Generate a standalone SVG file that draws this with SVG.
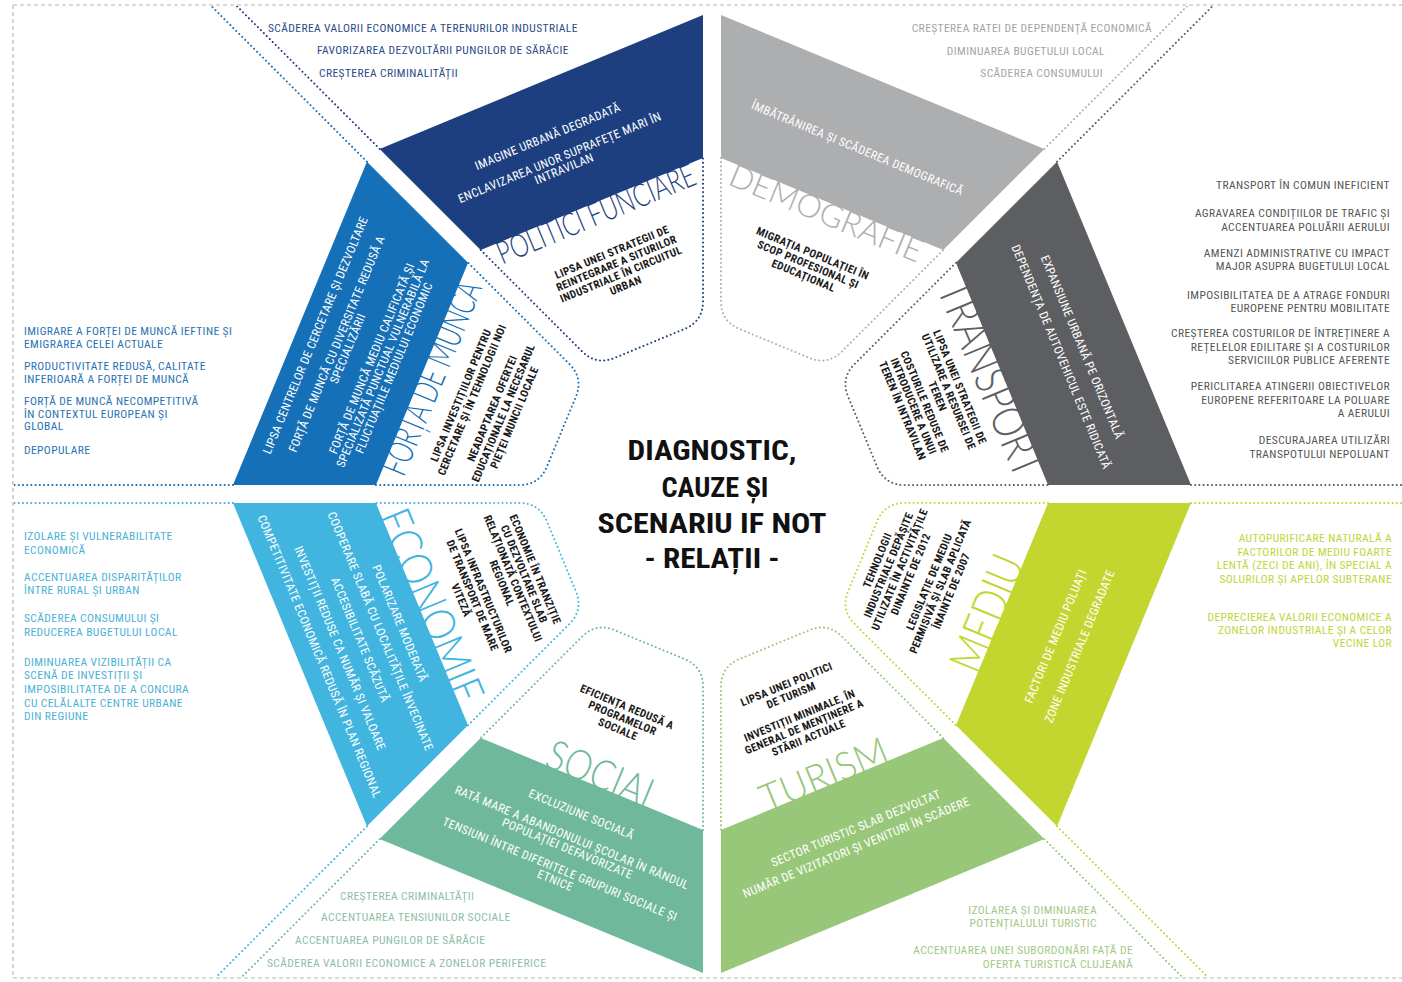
<svg xmlns="http://www.w3.org/2000/svg" width="1402" height="982" viewBox="0 0 1402 982">
<style>
text{font-family:"Liberation Sans Narrow","Roboto Condensed","DejaVu Sans Condensed","Liberation Sans",sans-serif;font-size:11.5px;letter-spacing:0.4px}
.dot{fill:none;stroke-width:2;stroke-linecap:round;stroke-dasharray:0 4.2}
.e{text-anchor:end}
.s{font-size:11px;letter-spacing:0.5px}
.b{fill:#fff;text-anchor:middle;font-size:12px;letter-spacing:0.35px}
.i{font-weight:bold;fill:#1a1a1a;text-anchor:middle;font-size:11px;letter-spacing:0.3px}
.t{font-family:Lato,"Open Sans",Roboto,sans-serif;font-weight:300;text-anchor:middle;letter-spacing:0}
.c{font-size:28px;font-weight:bold;fill:#111;text-anchor:middle;letter-spacing:0}
.frame{fill:none;stroke:#b8b8b8;stroke-width:1.2;stroke-dasharray:4 3}
</style>
<defs>
<polygon id="band" points="-175,-446 175,-446 120.3,-313.9 -120.3,-313.9"/>
<path id="inner" d="M-120.3,-313.9 L-65.5,-181.5 Q-57.8,-163 -37.8,-163 L37.8,-163 Q57.8,-163 65.5,-181.5 L120.3,-313.9"/>
<path id="lineL" d="M-175,-446 L-443,-1093"/>
<path id="lineR" d="M175,-446 L443,-1093"/>
<clipPath id="frameClip" clipPathUnits="userSpaceOnUse"><rect x="14" y="6" width="1388" height="971"/></clipPath>
</defs>
<rect width="1402" height="982" fill="#fff"/>
<path class="frame" d="M13,5 H1402 M13,5 V978 M13,978 H1402"/>

<g id="connectors" clip-path="url(#frameClip)">
<use href="#lineL" class="dot" stroke="#1e3f7f" transform="translate(712,494) rotate(-22.5)"/>
<use href="#lineR" class="dot" stroke="#adaeb0" transform="translate(712,494) rotate(22.5)"/>
<use href="#lineL" class="dot" stroke="#5d5e61" transform="translate(712,494) rotate(67.5)"/>
<use href="#lineR" class="dot" stroke="#5d5e61" transform="translate(712,494) rotate(67.5)"/>
<use href="#lineL" class="dot" stroke="#c3d630" transform="translate(712,494) rotate(112.5)"/>
<use href="#lineR" class="dot" stroke="#c3d630" transform="translate(712,494) rotate(112.5)"/>
<use href="#lineL" class="dot" stroke="#98c77a" transform="translate(712,494) rotate(157.5)"/>
<use href="#lineR" class="dot" stroke="#6fb89b" transform="translate(712,494) rotate(202.5)"/>
<use href="#lineL" class="dot" stroke="#41b5e0" transform="translate(712,494) rotate(247.5)"/>
<use href="#lineR" class="dot" stroke="#41b5e0" transform="translate(712,494) rotate(247.5)"/>
<use href="#lineL" class="dot" stroke="#1570b7" transform="translate(712,494) rotate(-67.5)"/>
<use href="#lineR" class="dot" stroke="#1570b7" transform="translate(712,494) rotate(-67.5)"/>
</g>

<g id="sector-politici-funciare">
<g transform="translate(712,494) rotate(-22.5)">
<use href="#band" fill="#1e3f7f"/>
<use href="#inner" class="dot" stroke="#1e3f7f"/>
<text class="b" x="-15" y="-389">IMAGINE URBANĂ DEGRADATĂ</text>
<text class="b" x="-12" y="-365">ENCLAVIZAREA UNOR SUPRAFEȚE MARI ÎN</text>
<text class="b" x="-12" y="-353">INTRAVILAN</text>
<text class="t" x="0" y="-292" style="font-size:32px" fill="#1e3f7f" textLength="212" lengthAdjust="spacingAndGlyphs">POLITICI FUNCIARE</text>
<text class="i" x="0" y="-258">LIPSA UNEI STRATEGII DE</text>
<text class="i" x="0" y="-246">REINTEGRARE A SITURILOR</text>
<text class="i" x="0" y="-234">INDUSTRIALE ÎN CIRCUITUL</text>
<text class="i" x="0" y="-222">URBAN</text>
</g>
<g fill="#2b4a87">
<text x="268" y="32">SCĂDEREA VALORII ECONOMICE A TERENURILOR INDUSTRIALE</text>
<text x="317" y="54">FAVORIZAREA DEZVOLTĂRII PUNGILOR DE SĂRĂCIE</text>
<text x="319" y="77">CREȘTEREA CRIMINALITĂȚII</text>
</g>
</g>

<g id="sector-demografie">
<g transform="translate(712,494) rotate(22.5)">
<use href="#band" fill="#adaeb0"/>
<use href="#inner" class="dot" stroke="#adaeb0"/>
<text class="b" x="2" y="-371">ÎMBĂTRÂNIREA ȘI SCĂDEREA DEMOGRAFICĂ</text>
<text class="t" x="-2" y="-292" style="font-size:32px" fill="#adaeb0" textLength="206" lengthAdjust="spacingAndGlyphs">DEMOGRAFIE</text>
<text class="i" x="1" y="-257">MIGRAȚIA POPULAȚIEI ÎN</text>
<text class="i" x="1" y="-245">SCOP PROFESIONAL ȘI</text>
<text class="i" x="1" y="-233">EDUCAȚIONAL</text>
</g>
<g fill="#a4a4a4" class="e">
<text x="1152" y="32">CREȘTEREA RATEI DE DEPENDENȚĂ ECONOMICĂ</text>
<text x="1105" y="55">DIMINUAREA BUGETULUI LOCAL</text>
<text x="1103" y="77">SCĂDEREA CONSUMULUI</text>
</g>
</g>

<g id="sector-transport">
<g transform="translate(712,494) rotate(67.5)">
<use href="#band" fill="#5d5e61"/>
<use href="#inner" class="dot" stroke="#5d5e61"/>
<text class="b" x="6" y="-394">EXPANSIUNE URBANĂ PE ORIZONTALĂ</text>
<text class="b" x="7" y="-371">DEPENDENȚA DE AUTOVEHICUL ESTE RIDICATĂ</text>
<text class="t" x="0" y="-286" style="font-size:45px" fill="#5d5e61" textLength="208" lengthAdjust="spacingAndGlyphs">TRANSPORT</text>
<text class="i" x="-4" y="-266">LIPSA UNEI STRATEGII DE</text>
<text class="i" x="-4" y="-254">UTILIZARE A RESURSEI DE</text>
<text class="i" x="-4" y="-242">TEREN</text>
<text class="i" x="-4" y="-228">COSTURILE REDUSE DE</text>
<text class="i" x="-4" y="-216">INTRODUCERE A UNUI</text>
<text class="i" x="-4" y="-204">TEREN ÎN INTRAVILAN</text>
</g>
<g fill="#555" class="e">
<text x="1390" y="189">TRANSPORT ÎN COMUN INEFICIENT</text>
<text x="1390" y="217">AGRAVAREA CONDIȚIILOR DE TRAFIC ȘI</text>
<text x="1390" y="231">ACCENTUAREA POLUĂRII AERULUI</text>
<text x="1390" y="257">AMENZI ADMINISTRATIVE CU IMPACT</text>
<text x="1390" y="270">MAJOR ASUPRA BUGETULUI LOCAL</text>
<text x="1390" y="299">IMPOSIBILITATEA DE A ATRAGE FONDURI</text>
<text x="1390" y="312">EUROPENE PENTRU MOBILITATE</text>
<text x="1390" y="337">CREȘTEREA COSTURILOR DE ÎNTREȚINERE A</text>
<text x="1390" y="351">REȚELELOR EDILITARE ȘI A COSTURILOR</text>
<text x="1390" y="364">SERVICIILOR PUBLICE AFERENTE</text>
<text x="1390" y="390">PERICLITAREA ATINGERII OBIECTIVELOR</text>
<text x="1390" y="404">EUROPENE REFERITOARE LA POLUARE</text>
<text x="1390" y="417">A AERULUI</text>
<text x="1390" y="444">DESCURAJAREA UTILIZĂRI</text>
<text x="1390" y="458">TRANSPOTULUI NEPOLUANT</text>
</g>
</g>

<g id="sector-mediu">
<g transform="translate(712,494) rotate(-67.5)">
<g transform="rotate(180)">
<use href="#band" fill="#c3d630"/>
<use href="#inner" class="dot" stroke="#c3d630"/>
</g>
<text class="b" x="0" y="376">FACTORI DE MEDIU POLUAȚI</text>
<text class="b" x="0" y="402">ZONE INDUSTRIALE DEGRADATE</text>
<text class="t" x="-5" y="316" style="font-size:47px" fill="#c3d630" textLength="122" lengthAdjust="spacingAndGlyphs">MEDIU</text>
<text class="i" x="2" y="182">TEHNOLOGII</text>
<text class="i" x="2" y="194">INDUSTRIALE DEPĂȘITE</text>
<text class="i" x="2" y="206">UTILIZATE ÎN ACTIVITĂȚILE</text>
<text class="i" x="2" y="218">DINAINTE DE 2012</text>
<text class="i" x="2" y="238">LEGISLAȚIE DE MEDIU</text>
<text class="i" x="2" y="250">PERMISIVĂ ȘI SLAB APLICATĂ</text>
<text class="i" x="2" y="262">ÎNAINTE DE 2007</text>
</g>
<g fill="#c2d43a" class="e">
<text x="1392" y="542">AUTOPURIFICARE NATURALĂ A</text>
<text x="1392" y="556">FACTORILOR DE MEDIU FOARTE</text>
<text x="1392" y="569">LENTĂ (ZECI DE ANI), ÎN SPECIAL A</text>
<text x="1392" y="583">SOLURILOR ȘI APELOR SUBTERANE</text>
<text x="1392" y="621">DEPRECIEREA VALORII ECONOMICE A</text>
<text x="1392" y="634">ZONELOR INDUSTRIALE ȘI A CELOR</text>
<text x="1392" y="647">VECINE LOR</text>
</g>
</g>

<g id="sector-turism">
<g transform="translate(712,494) rotate(-22.5)">
<g transform="rotate(180)">
<use href="#band" fill="#98c77a"/>
<use href="#inner" class="dot" stroke="#98c77a"/>
</g>
<text class="b" x="5" y="368">SECTOR TURISTIC SLAB DEZVOLTAT</text>
<text class="b" x="-2" y="386">NUMĂR DE VIZITATORI ȘI VENITURI ÎN SCĂDERE</text>
<text class="t" x="-4" y="316" style="font-size:39px" fill="#98c77a" textLength="135" lengthAdjust="spacingAndGlyphs">TURISM</text>
<text class="i" x="-4" y="208">LIPSA UNEI POLITICI</text>
<text class="i" x="-4" y="220">DE TURISM</text>
<text class="i" x="-4" y="242">INVESTIȚII MINIMALE, ÎN</text>
<text class="i" x="-4" y="254">GENERAL DE MENȚINERE A</text>
<text class="i" x="-4" y="266">STĂRII ACTUALE</text>
</g>
<g fill="#a2c985" class="e">
<text x="1097" y="914">IZOLAREA  ȘI DIMINUAREA</text>
<text x="1097" y="927">POTENȚIALULUI TURISTIC</text>
<text x="1133" y="954">ACCENTUAREA UNEI SUBORDONĂRI FAȚĂ DE</text>
<text x="1133" y="968">OFERTA TURISTICĂ CLUJEANĂ</text>
</g>
</g>

<g id="sector-social">
<g transform="translate(712,494) rotate(22.5)">
<g transform="rotate(180)">
<use href="#band" fill="#6fb89b"/>
<use href="#inner" class="dot" stroke="#6fb89b"/>
</g>
<text class="b" x="2" y="350">EXCLUZIUNE SOCIALĂ</text>
<text class="b" x="2" y="375">RATĂ MARE A ABANDONULUI ȘCOLAR ÎN RÂNDUL</text>
<text class="b" x="2" y="387">POPULAȚIEI DEFAVORIZATE</text>
<text class="b" x="3" y="409">TENSIUNI ÎNTRE DIFERITELE GRUPURI SOCIALE ȘI</text>
<text class="b" x="3" y="421">ETNICE</text>
<text class="t" x="8" y="316" style="font-size:42px" fill="#6fb89b" textLength="120" lengthAdjust="spacingAndGlyphs">SOCIAL</text>
<text class="i" x="3" y="233">EFICIENȚA REDUSĂ A</text>
<text class="i" x="3" y="245">PROGRAMELOR</text>
<text class="i" x="3" y="257">SOCIALE</text>
</g>
<g fill="#8cbea7">
<text x="340" y="900">CREȘTEREA CRIMINALTĂȚII</text>
<text x="321" y="921">ACCENTUAREA TENSIUNILOR SOCIALE</text>
<text x="295" y="944">ACCENTUAREA PUNGILOR DE SĂRĂCIE</text>
<text x="267" y="967">SCĂDEREA VALORII ECONOMICE A ZONELOR PERIFERICE</text>
</g>
</g>

<g id="sector-economie">
<g transform="translate(712,494) rotate(67.5)">
<g transform="rotate(180)">
<use href="#band" fill="#41b5e0"/>
<use href="#inner" class="dot" stroke="#41b5e0"/>
</g>
<text class="b" x="0" y="342">POLARIZARE MODERATĂ</text>
<text class="b" x="0" y="363">COOPERARE SLABĂ CU LOCALITĂȚILE ÎNVECINATE</text>
<text class="b" x="0" y="385">ACCESIBILITATE SCĂZUTĂ</text>
<text class="b" x="0" y="407">INVESTIȚII REDUSE CA NUMĂR ȘI VALOARE</text>
<text class="b" x="0" y="429">COMPETITIVITATE ECONOMICĂ REDUSĂ ÎN PLAN REGIONAL</text>
<text class="t" x="-4" y="318" style="font-size:45px" fill="#41b5e0" textLength="206" lengthAdjust="spacingAndGlyphs">ECONOMIE</text>
<text class="i" x="2" y="196">ECONOMIE ÎN TRANZIȚIE</text>
<text class="i" x="2" y="208">CU DEZVOLTARE SLAB</text>
<text class="i" x="2" y="220">RELAȚIONATĂ CONTEXTULUI</text>
<text class="i" x="2" y="232">REGIONAL</text>
<text class="i" x="2" y="252">LIPSA INFRASTRUCTURILOR</text>
<text class="i" x="2" y="264">DE TRANSPORT DE MARE</text>
<text class="i" x="2" y="276">VITEZĂ</text>
</g>
<g fill="#4bb2d6">
<text x="24" y="540">IZOLARE ȘI VULNERABILITATE</text>
<text x="24" y="554">ECONOMICĂ</text>
<text x="24" y="581">ACCENTUAREA DISPARITĂȚILOR</text>
<text x="24" y="594">ÎNTRE RURAL ȘI URBAN</text>
<text x="24" y="622">SCĂDEREA CONSUMULUI ȘI</text>
<text x="24" y="636">REDUCEREA BUGETULUI LOCAL</text>
<text x="24" y="666">DIMINUAREA VIZIBILITĂȚII CA</text>
<text x="24" y="679">SCENĂ DE INVESTIȚII ȘI</text>
<text x="24" y="693">IMPOSIBILITATEA DE A CONCURA</text>
<text x="24" y="707">CU CELĂLALTE CENTRE URBANE</text>
<text x="24" y="720">DIN REGIUNE</text>
</g>
</g>

<g id="sector-forta-de-munca">
<g transform="translate(712,494) rotate(-67.5)">
<use href="#band" fill="#1570b7"/>
<use href="#inner" class="dot" stroke="#1570b7"/>
<text class="b" x="-5" y="-423">LIPSA CENTRELOR DE CERCETARE ȘI DEZVOLTARE</text>
<text class="b" x="-5" y="-400">FORȚĂ DE MUNCĂ CU DIVERSITATE REDUSĂ A</text>
<text class="b" x="-5" y="-388">SPECIALIZĂRII</text>
<text class="b" x="-5" y="-362">FORȚĂ DE MUNCĂ MEDIU CALIFICATĂ ȘI</text>
<text class="b" x="-5" y="-350">SPECIALIZATĂ PUNCTUAL VULNERABILĂ LA</text>
<text class="b" x="-5" y="-338">FLUCTUAȚIILE MEDIULUI ECONOMIC</text>
<text class="t" x="0" y="-291" style="font-size:36px" fill="#1570b7" textLength="206" lengthAdjust="spacingAndGlyphs">FORȚA DE MUNCA</text>
<text class="i" x="-5" y="-266">LIPSA INVESTIȚIILOR PENTRU</text>
<text class="i" x="-5" y="-254">CERCETARE ȘI ÎN TEHNOLOGII NOI</text>
<text class="i" x="-5" y="-232">NEADAPTAREA OFERTEI</text>
<text class="i" x="-5" y="-220">EDUCAȚIONALE LA NECESARUL</text>
<text class="i" x="-5" y="-208">PIEȚEI MUNCII LOCALE</text>
</g>
<g fill="#2a72b3" class="s">
<text x="24" y="335">IMIGRARE A FORȚEI DE MUNCĂ IEFTINE ȘI</text>
<text x="24" y="347.5">EMIGRAREA CELEI ACTUALE</text>
<text x="24" y="370">PRODUCTIVITATE REDUSĂ, CALITATE</text>
<text x="24" y="382.5">INFERIOARĂ A FORȚEI DE MUNCĂ</text>
<text x="24" y="405">FORȚĂ DE MUNCĂ NECOMPETITIVĂ</text>
<text x="24" y="417.5">ÎN CONTEXTUL EUROPEAN ȘI</text>
<text x="24" y="430">GLOBAL</text>
<text x="24" y="454">DEPOPULARE</text>
</g>
</g>

<g id="center-title">
<text class="c" x="712" y="460" textLength="169" lengthAdjust="spacingAndGlyphs">DIAGNOSTIC,</text>
<text class="c" x="715" y="497" textLength="107" lengthAdjust="spacingAndGlyphs">CAUZE ȘI</text>
<text class="c" x="712" y="533" textLength="229" lengthAdjust="spacingAndGlyphs">SCENARIU IF NOT</text>
<text class="c" x="712" y="568" textLength="135" lengthAdjust="spacingAndGlyphs">- RELAȚII -</text>
</g>
</svg>
